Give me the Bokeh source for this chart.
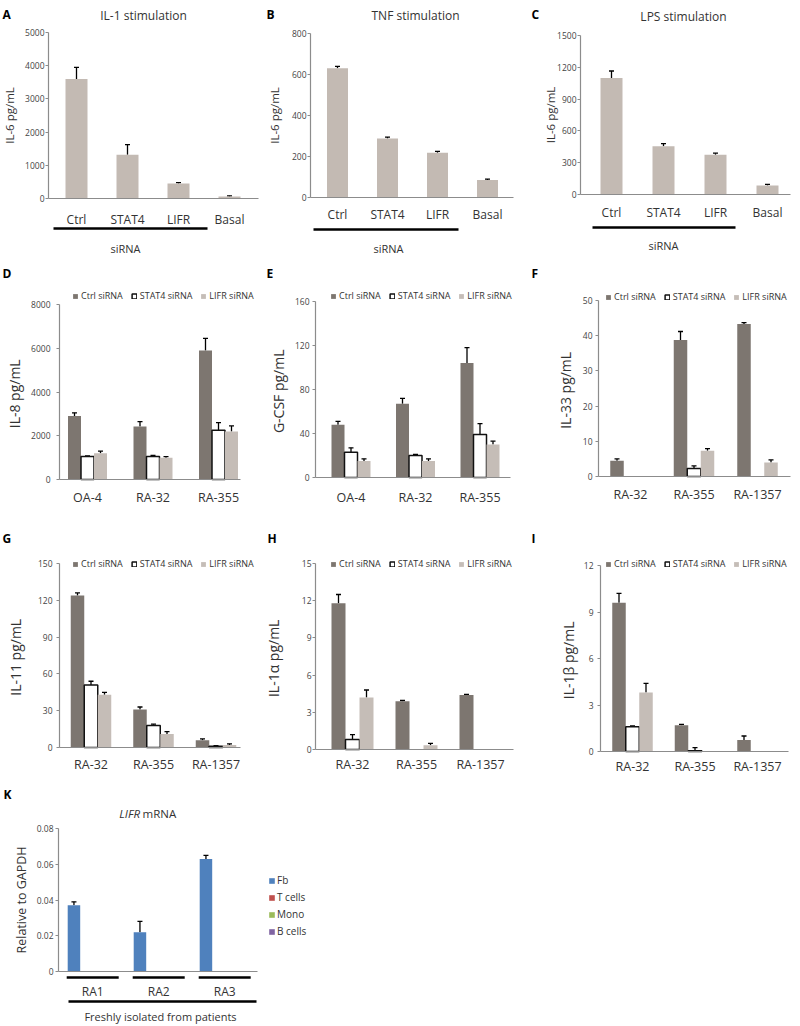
import numpy as np
from bokeh.plotting import figure
from bokeh.layouts import column, row
from bokeh.models import (Range1d, LinearAxis, FixedTicker, Whisker, TeeHead,
                          ColumnDataSource, Legend, LegendItem)
from bokeh.core.properties import value
from bokeh.embed import file_html
from bokeh.resources import INLINE

# ---------------- data ----------------
stim_labels = ["Ctrl", "STAT4", "LIFR", "Basal"]
il1_vals = [3600, 1320, 450, 60]
il1_err = [3950, 1620, 480, 80]
tnf_vals = [630, 288, 218, 85]
tnf_err = [640, 295, 225, 90]
lps_vals = [1100, 455, 375, 85]
lps_err = [1165, 480, 390, 95]

series_names = ["Ctrl siRNA", "STAT4 siRNA", "LIFR siRNA"]
samples_de = ["OA-4", "RA-32", "RA-355"]
samples_fi = ["RA-32", "RA-355", "RA-1357"]

il8_ctrl = [2900, 2420, 5900]
il8_ctrl_err = [3050, 2650, 6450]
il8_stat4 = [1050, 1050, 2250]
il8_stat4_err = [1080, 1100, 2600]
il8_lifr = [1200, 1000, 2200]
il8_lifr_err = [1300, 1050, 2450]

gcsf_ctrl = [48, 67, 104]
gcsf_ctrl_err = [51, 72, 118]
gcsf_stat4 = [23, 20, 39]
gcsf_stat4_err = [27, 21, 49]
gcsf_lifr = [15, 15, 30]
gcsf_lifr_err = [17, 17, 33]

il33_ctrl = [4.5, 38.8, 43.3]
il33_ctrl_err = [5.0, 41.2, 43.7]
il33_stat4 = [None, 2.3, None]
il33_stat4_err = [None, 3.0, None]
il33_lifr = [None, 7.3, 4.0]
il33_lifr_err = [None, 7.9, 4.7]

il11_ctrl = [124, 31, 6]
il11_ctrl_err = [126, 33, 7]
il11_stat4 = [51, 18, 1]
il11_stat4_err = [54, 19, 1.5]
il11_lifr = [43, 11, 2]
il11_lifr_err = [45, 13, 3]

il1a_ctrl = [11.8, 3.9, 4.4]
il1a_ctrl_err = [12.5, 3.95, 4.45]
il1a_stat4 = [0.8, None, None]
il1a_stat4_err = [1.2, None, None]
il1a_lifr = [4.2, 0.35, None]
il1a_lifr_err = [4.8, 0.5, None]

il1b_ctrl = [9.6, 1.7, 0.75]
il1b_ctrl_err = [10.2, 1.75, 1.0]
il1b_stat4 = [1.6, 0.05, None]
il1b_stat4_err = [1.65, 0.25, None]
il1b_lifr = [3.8, None, None]
il1b_lifr_err = [4.4, None, None]

patients = ["RA1", "RA2", "RA3"]
cell_types = ["Fb", "T cells", "Mono", "B cells"]
lifr_fb = [0.037, 0.022, 0.063]
lifr_fb_err = [0.039, 0.028, 0.065]
lifr_t = [0, 0, 0]
lifr_mono = [0, 0, 0]
lifr_b = [0, 0, 0]

# ---------------- style ----------------
FONT = "Open Sans"
TXT = "#333333"
TICKC = "#444444"
AXC = "#8c8c8c"
STIM_COLOR = "#c3bab3"
SER_FILL = ["#7d7670", "#ffffff", "#c5bdb7"]
SER_LINE = [None, "#111111", None]
CELL_COLORS = ["#4f81bd", "#c0504d", "#9bbb59", "#8064a2"]


def make_panel(left, top, w, h, xmap, ymap):
    px0, xv0, px1, xv1 = xmap
    sx = (xv1 - xv0) / (px1 - px0)
    xs = xv0 - (px0 - left) * sx
    py0, yv0, py1, yv1 = ymap
    sy = (yv1 - yv0) / (py0 - py1)
    ys = yv0 - (top + h - py0) * sy
    p = figure(width=w, height=h, x_range=Range1d(xs, xs + w * sx),
               y_range=Range1d(ys, ys + h * sy), x_axis_type=None, y_axis_type=None,
               min_border=0, toolbar_location=None, output_backend="svg",
               outline_line_color=None, background_fill_color="white",
               border_fill_color="white")
    fx = lambda px: xs + (px - left) * sx
    fy = lambda py: ys + (top + h - py) * sy
    return p, fx, fy, sx


def add_text(p, x, y, s, size, style="normal", align="center", baseline="middle",
             color=TXT):
    p.text(x=[x], y=[y], text=[s], text_font=value(FONT), text_font_size=size,
           text_font_style=style, text_align=align, text_baseline=baseline,
           text_color=color)


def add_whiskers(p, xs, tops, errs):
    pts = [(x, t, e) for x, t, e in zip(xs, tops, errs) if t is not None and e is not None]
    if not pts:
        return
    src = ColumnDataSource(dict(x=[a[0] for a in pts], lower=[a[1] for a in pts],
                                upper=[a[2] for a in pts]))
    w = Whisker(source=src, base="x", lower="lower", upper="upper", dimension="height",
                line_color="black", line_width=1.3,
                upper_head=TeeHead(size=5, line_color="black", line_width=1.3),
                lower_head=None)
    p.add_layout(w)


def add_axes(p, fx, yaxis_px, xend_px, yticks, ylabel, cats, cat_size, cat_standoff,
             ylab_size, ylab_standoff, tick_standoff=2, overrides=None):
    yax = LinearAxis(fixed_location=fx(yaxis_px), bounds=(yticks[0], yticks[-1]),
                     ticker=FixedTicker(ticks=yticks), axis_label=ylabel,
                     axis_line_color=AXC, axis_line_width=1.2,
                     major_tick_line_color=AXC, major_tick_out=3, major_tick_in=0,
                     minor_tick_line_color=None,
                     major_label_text_font=FONT, major_label_text_font_size="8.5px",
                     major_label_text_color=TICKC, major_label_standoff=tick_standoff,
                     axis_label_text_font=FONT, axis_label_text_font_size=ylab_size,
                     axis_label_text_font_style="normal", axis_label_text_color=TXT,
                     axis_label_standoff=ylab_standoff)
    if overrides:
        yax.major_label_overrides = overrides
    p.add_layout(yax, "left")
    xax = LinearAxis(fixed_location=0, bounds=(fx(yaxis_px), fx(xend_px)),
                     ticker=FixedTicker(ticks=list(range(len(cats)))),
                     major_label_overrides={i: c for i, c in enumerate(cats)},
                     axis_line_color=AXC, axis_line_width=1.2,
                     major_tick_line_color=None, minor_tick_line_color=None,
                     major_label_text_font=FONT, major_label_text_font_size=cat_size,
                     major_label_text_color=TXT, major_label_standoff=cat_standoff)
    p.add_layout(xax, "below")


def stim_panel(left, top, w, h, xmap, ymap, vals, errs, yticks, title, letter, letter_xy,
               title_xy, line_px, sirna_xy, bar_px, yaxis_px, xend_px,
               cat_standoff, ylab_standoff):
    p, fx, fy, sx = make_panel(left, top, w, h, xmap, ymap)
    xs = list(range(len(stim_labels)))
    p.vbar(x=xs, top=vals, bottom=0, width=bar_px * sx, fill_color=STIM_COLOR,
           line_color=None)
    add_whiskers(p, xs, vals, errs)
    add_axes(p, fx, yaxis_px, xend_px, yticks, "IL-6 pg/mL", stim_labels, "12px",
             cat_standoff, "11.5px", ylab_standoff, tick_standoff=1)
    add_text(p, fx(letter_xy[0]), fy(letter_xy[1]), letter, "12px", "bold", "left", "top",
             "black")
    add_text(p, fx(title_xy[0]), fy(title_xy[1]), title, "12px")
    p.segment(x0=[fx(line_px[0])], y0=[fy(line_px[2])], x1=[fx(line_px[1])],
              y1=[fy(line_px[2])], line_width=2.5, line_color="black")
    add_text(p, fx(sirna_xy[0]), fy(sirna_xy[1]), "siRNA", "11px")
    return p


def group_panel(left, top, w, h, xmap, ymap, cats, series, errs, yticks, ylabel,
                letter, letter_xy, bar_px, yaxis_px, xend_px, legend_px,
                cat_standoff, ylab_standoff, tick_standoff):
    p, fx, fy, sx = make_panel(left, top, w, h, xmap, ymap)
    bw = bar_px * sx
    rends = []
    for k, (vals, ers) in enumerate(zip(series, errs)):
        off = (k - 1) * bw
        xs = [i + off for i, v in enumerate(vals) if v is not None]
        tops = [v for v in vals if v is not None]
        r = p.vbar(x=xs, top=tops, bottom=0, width=bw, fill_color=SER_FILL[k],
                   line_color=SER_LINE[k], line_width=1.5)
        rends.append(r)
        add_whiskers(p, [i + off for i in range(len(vals))], vals, ers)
    add_axes(p, fx, yaxis_px, xend_px, yticks, ylabel, cats, "12.5px", cat_standoff,
             "14px", ylab_standoff, tick_standoff=tick_standoff)
    add_text(p, fx(letter_xy[0]), fy(letter_xy[1]), letter, "12px", "bold", "left", "top",
             "black")
    leg = Legend(items=[LegendItem(label=value(n), renderers=[r])
                        for n, r in zip(series_names, rends)],
                 orientation="horizontal",
                 location=(legend_px[0] - left, top + h - legend_px[1]),
                 glyph_width=6, glyph_height=6, label_text_font=FONT,
                 label_text_font_size="9px", label_text_color=TXT, label_standoff=3,
                 spacing=8, padding=0, margin=0, label_height=10,
                 background_fill_alpha=0, border_line_color=None)
    p.add_layout(leg)
    return p


# ---------------- row 1 ----------------
pA = stim_panel(0, 0, 265, 260, (76, 0, 229, 3), (198, 0, 32, 5000), il1_vals, il1_err,
                [0, 1000, 2000, 3000, 4000, 5000], "IL-1 stimulation", "A", (2, 5),
                (143, 15), (53, 207, 228), (125, 248), 22, 48, 258, 6, 5)
pB = stim_panel(265, 0, 265, 260, (337, 0, 487, 3), (197, 0, 33, 800), tnf_vals, tnf_err,
                [0, 200, 400, 600, 800], "TNF stimulation", "B", (266, 5),
                (415, 15), (313, 458, 229), (388, 248), 21, 310, 513, 2, 7)
pC = stim_panel(530, 0, 270, 260, (611, 0, 767, 3), (194, 0, 35, 1500), lps_vals, lps_err,
                [0, 300, 600, 900, 1200, 1500], "LPS stimulation", "C", (531, 5),
                (683, 16), (592, 735, 227), (663, 245), 22, 580, 790, 3, -4)

# ---------------- row 2 ----------------
pD = group_panel(0, 260, 265, 250, (87, 0, 218, 2), (479, 0, 304, 8000), samples_de,
                 [il8_ctrl, il8_stat4, il8_lifr], [il8_ctrl_err, il8_stat4_err, il8_lifr_err],
                 [0, 2000, 4000, 6000, 8000], "IL-8  pg/mL", "D", (2, 264), 13, 59, 240,
                 (72, 302), 3, 4, 6)
pE = group_panel(265, 260, 265, 250, (350.5, 0, 479.5, 2), (477, 0, 301, 160), samples_de,
                 [gcsf_ctrl, gcsf_stat4, gcsf_lifr],
                 [gcsf_ctrl_err, gcsf_stat4_err, gcsf_lifr_err],
                 [0, 40, 80, 120, 160], "G-CSF  pg/mL", "E", (266, 264), 13, 315, 510,
                 (330, 302), 5, 4, 3)
pF = group_panel(530, 260, 270, 250, (630, 0, 757, 2), (476, 0, 300, 50), samples_fi,
                 [il33_ctrl, il33_stat4, il33_lifr],
                 [il33_ctrl_err, il33_stat4_err, il33_lifr_err],
                 [0, 10, 20, 30, 40, 50], "IL-33  pg/mL", "F", (531, 264), 13.5, 598, 790,
                 (605, 303), 3, 5, 3)

# ---------------- row 3 ----------------
pG = group_panel(0, 510, 265, 273, (90.5, 0, 215.5, 2), (747, 0, 563, 150), samples_fi,
                 [il11_ctrl, il11_stat4, il11_lifr],
                 [il11_ctrl_err, il11_stat4_err, il11_lifr_err],
                 [0, 30, 60, 90, 120, 150], "IL-11  pg/mL", "G", (2, 529), 13.5, 59, 240,
                 (72, 570), 2, 10, 4)
pH = group_panel(265, 510, 265, 273, (352, 0, 480, 2), (749, 0, 563, 15), samples_fi,
                 [il1a_ctrl, il1a_stat4, il1a_lifr],
                 [il1a_ctrl_err, il1a_stat4_err, il1a_lifr_err],
                 [0, 3, 6, 9, 12, 15], "IL-1\u03b1  pg/mL", "H", (267, 529), 14, 315, 513,
                 (330, 570), 0, 16, 1)
pI = group_panel(530, 510, 270, 273, (632, 0, 757, 2), (751, 0, 565, 12), samples_fi,
                 [il1b_ctrl, il1b_stat4, il1b_lifr],
                 [il1b_ctrl_err, il1b_stat4_err, il1b_lifr_err],
                 [0, 3, 6, 9, 12], "IL-1\u03b2  pg/mL", "I", (531, 529), 13.5, 600, 788,
                 (605, 570), 0, 3, 4)

# ---------------- row 4 (K) ----------------
kl, kt, kw, kh = 0, 783, 420, 242
pK, fx, fy, sx = make_panel(kl, kt, kw, kh, (92.2, 0, 224.2, 2), (971, 0, 828, 0.08))
bw = 12.5 * sx
k_series = [lifr_fb, lifr_t, lifr_mono, lifr_b]
k_rends = []
for k, vals in enumerate(k_series):
    off = (k - 1.5) * bw
    xs = [i + off for i in range(len(vals))]
    r = pK.vbar(x=xs, top=vals, bottom=0, width=bw, fill_color=CELL_COLORS[k],
                line_color=None)
    k_rends.append(r)
add_whiskers(pK, [i - 1.5 * bw for i in range(len(lifr_fb))], lifr_fb, lifr_fb_err)
k_ticks = [0, 0.02, 0.04, 0.06, 0.08]
add_axes(pK, fx, 58, 257, k_ticks, "Relative to GAPDH", patients, "12px", 5,
         "12.5px", 4, tick_standoff=2,
         overrides={0: "0", 0.02: "0.02", 0.04: "0.04", 0.06: "0.06", 0.08: "0.08"})
add_text(pK, fx(3), fy(785), "K", "12px", "bold", "left", "top", "black")
add_text(pK, fx(139.5), fy(813), "LIFR", "11.5px", "italic", "right", "middle")
add_text(pK, fx(142), fy(813), "mRNA", "11.5px", "normal", "left", "middle")
half = 26 * sx
pK.segment(x0=[i - half for i in range(len(patients))], y0=[fy(977)] * len(patients),
           x1=[i + half for i in range(len(patients))], y1=[fy(977)] * len(patients),
           line_width=2.5, line_color="black")
pK.segment(x0=[fx(68)], y0=[fy(1001)], x1=[fx(256)], y1=[fy(1001)],
           line_width=2.5, line_color="black")
add_text(pK, fx(160), fy(1016), "Freshly isolated from patients", "11px")
legK = Legend(items=[LegendItem(label=value(n), renderers=[r])
                     for n, r in zip(cell_types, k_rends)],
              orientation="vertical", location=(268 - kl, kt + kh - 938),
              glyph_width=7, glyph_height=7, label_text_font=FONT,
              label_text_font_size="10px", label_text_color=TXT, label_standoff=2,
              spacing=3, padding=0, margin=0, label_height=10,
              background_fill_alpha=0, border_line_color=None)
pK.add_layout(legK)

layout = column(row(pA, pB, pC), row(pD, pE, pF), row(pG, pH, pI), row(pK))
open("out.html", "w").write(file_html(layout, INLINE))
